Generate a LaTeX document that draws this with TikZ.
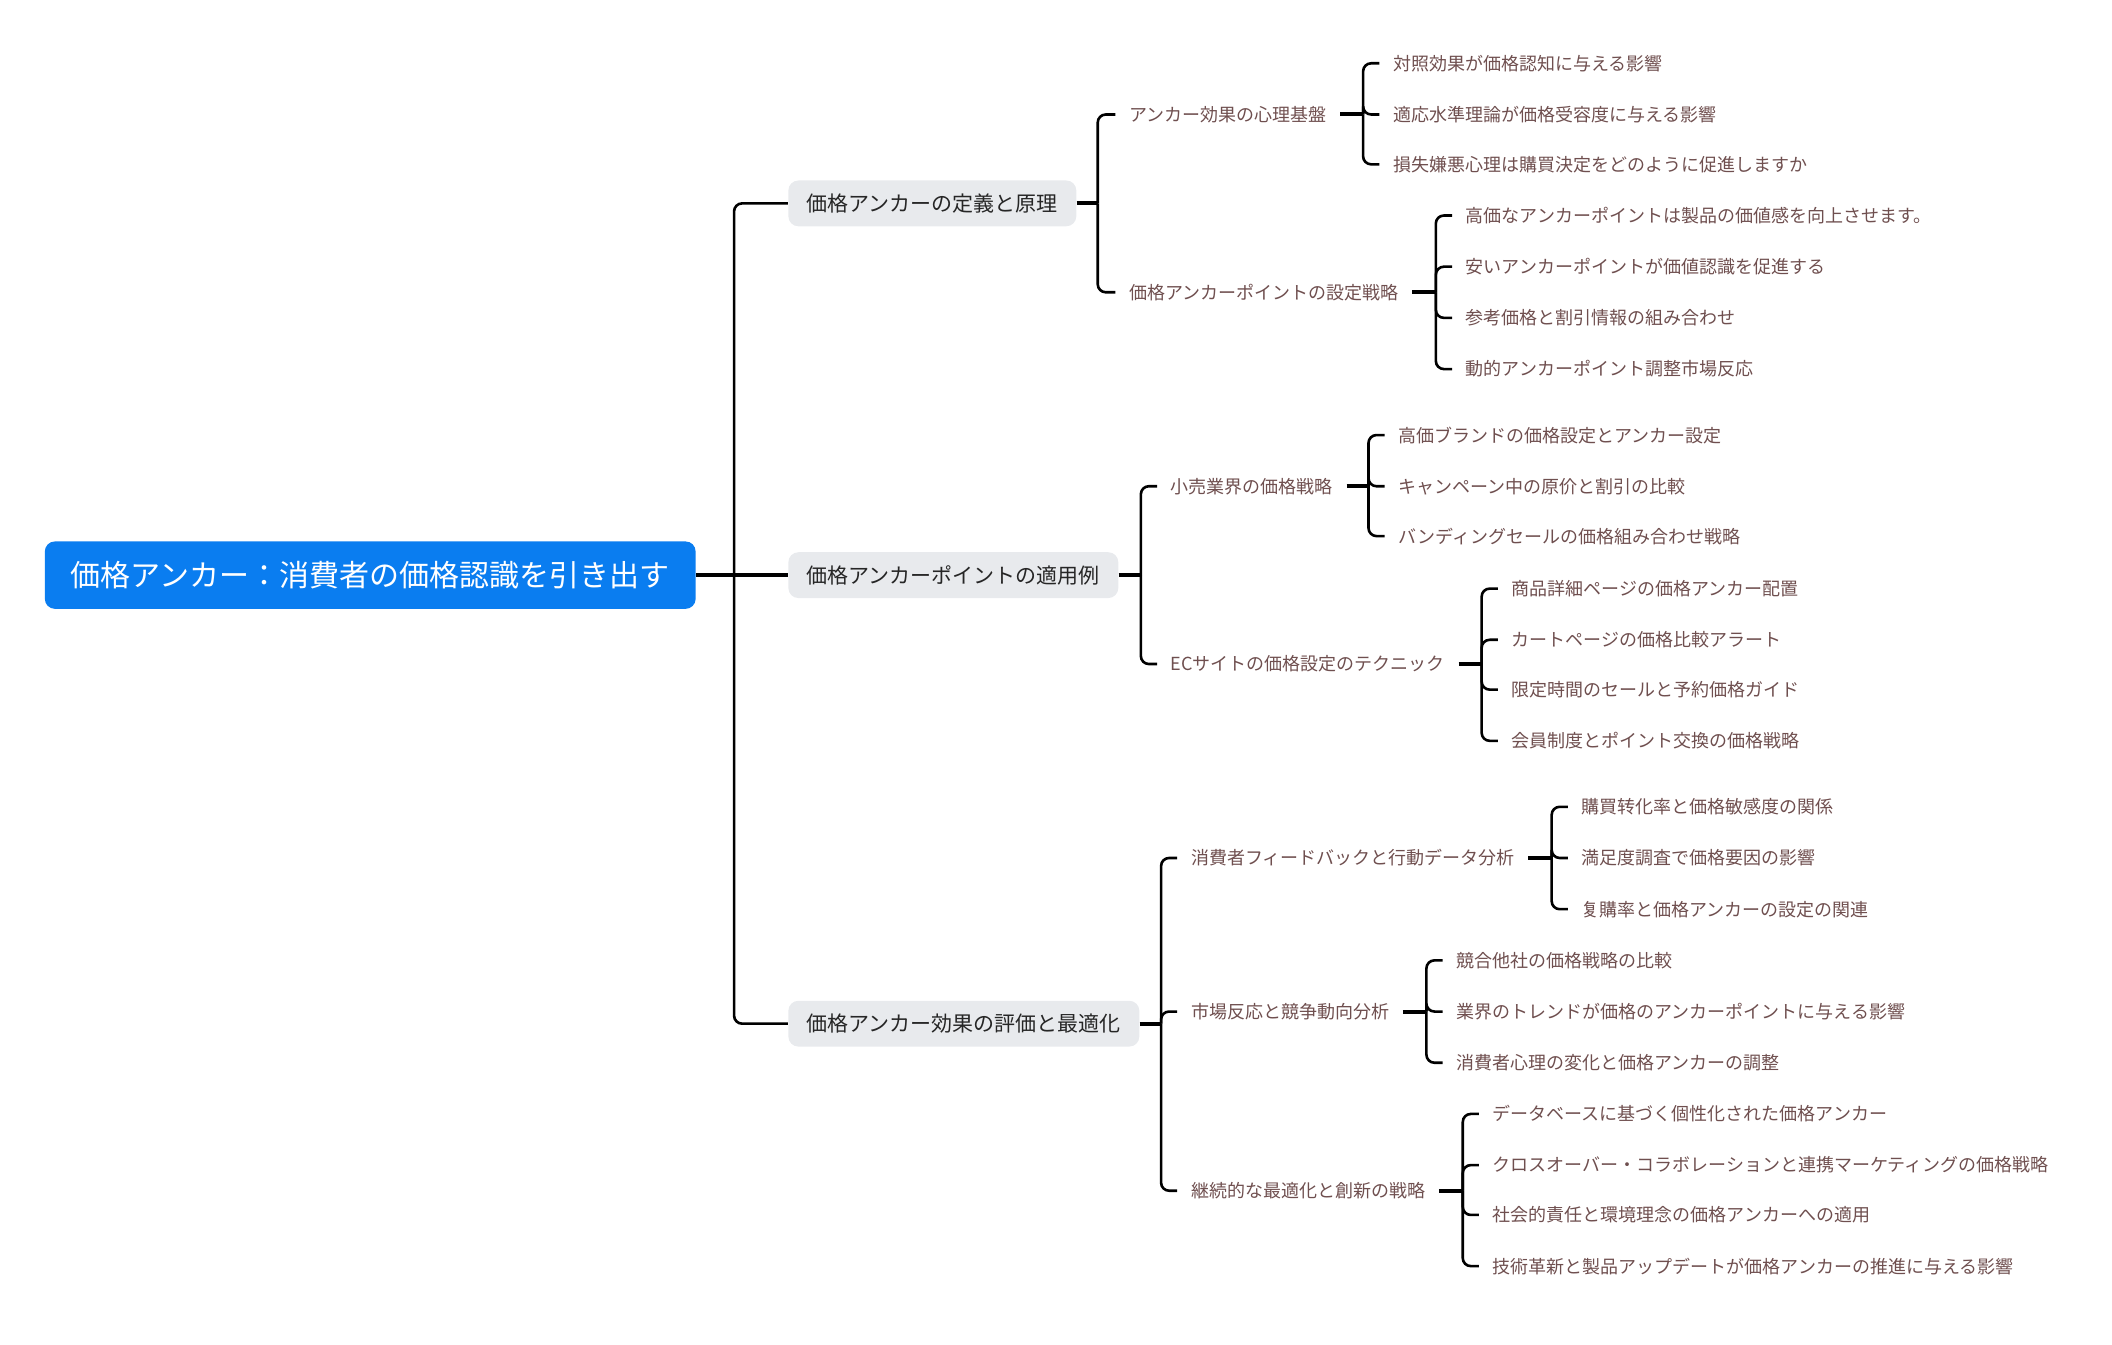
\documentclass[tikz,border=0pt]{standalone}
\usepackage{fontspec}
\newfontfamily\jp{Noto Sans CJK JP}
\usetikzlibrary{calc}
\definecolor{rootblue}{HTML}{0A7DF0}
\definecolor{topicgray}{HTML}{E8EAED}
\definecolor{leafbrown}{HTML}{6F4F4F}
\tikzset{
  rootbox/.style={fill=rootblue, text=white, rounded corners=5pt, font=\jp\fontsize{15}{18}\selectfont,
    inner xsep=13pt, minimum height=33.7pt, anchor=west},
  topic/.style={fill=topicgray, text=black!85, rounded corners=5pt, font=\jp\fontsize{10.5}{13}\selectfont,
    inner xsep=9.2pt, minimum height=22.9pt, anchor=west},
  sub/.style={text=leafbrown, font=\jp\fontsize{9}{11}\selectfont, inner xsep=6.7pt, inner ysep=2pt, anchor=west},
  link/.style={line width=1.3pt, rounded corners=4pt},
  stub/.style={line width=2pt},
}
\begin{document}
\begin{tikzpicture}[x=0.6735pt,y=-0.6735pt]
\useasboundingbox (0,0) rectangle (1568,998);

% root and main branches
\node[rootbox] (root) at (33,427) {価格アンカー：消費者の価格認識を引き出す};
\node[topic] (A) at (585,151) {価格アンカーの定義と原理};
\node[topic] (B) at (585,427) {価格アンカーポイントの適用例};
\node[topic] (C) at (585,760) {価格アンカー効果の評価と最適化};
\coordinate (trunk) at (545,427);
\draw[stub] (root.east) -- (B.west);
\draw[link] (trunk) |- (A.west);
\draw[link] (trunk) |- (C.west);

% second level
\node[sub] (A1) at (828,85) {アンカー効果の心理基盤};
\node[sub] (A2) at (828,217) {価格アンカーポイントの設定戦略};
\node[sub] (B1) at (859,361) {小売業界の価格戦略};
\node[sub] (B2) at (859,493) {ECサイトの価格設定のテクニック};
\node[sub] (C1) at (874,637) {消費者フィードバックと行動データ分析};
\node[sub] (C2) at (874,751) {市場反応と競争動向分析};
\node[sub] (C3) at (874,884) {継続的な最適化と創新の戦略};
\coordinate (Abus) at (815,151);
\coordinate (Bbus) at (847,427);
\coordinate (Cbus) at (862,760);
\draw[stub] (A.east) -- (Abus);
\draw[stub] (B.east) -- (Bbus);
\draw[stub] (C.east) -- (Cbus);
\foreach \p in {A1,A2} \draw[link] (Abus) |- (\p.west);
\foreach \p in {B1,B2} \draw[link] (Bbus) |- (\p.west);
\foreach \p in {C1,C2,C3} \draw[link] (Cbus) |- (\p.west);

% leaves
\coordinate (A1bus) at (1012,85);
\coordinate (A2bus) at (1066,217);
\coordinate (B1bus) at (1016,361);
\coordinate (B2bus) at (1100,493);
\coordinate (C1bus) at (1152,637);
\coordinate (C2bus) at (1059,751);
\coordinate (C3bus) at (1086,884);
\foreach \p in {A1,A2,B1,B2,C1,C2,C3} \draw[stub] (\p.east) -- (\p bus);

\foreach \y/\t [count=\i] in {47/対照効果が価格認知に与える影響,
    85/適応水準理論が価格受容度に与える影響,
    122/損失嫌悪心理は購買決定をどのように促進しますか} {
  \node[sub] (a1-\i) at (1024,\y) {\t};
  \draw[link] (A1bus) |- (a1-\i.west);
}
\foreach \y/\t [count=\i] in {160/高価なアンカーポイントは製品の価値感を向上させます。,
    198/安いアンカーポイントが価値認識を促進する,
    236/参考価格と割引情報の組み合わせ,
    274/動的アンカーポイント調整市場反応} {
  \node[sub] (a2-\i) at (1078,\y) {\t};
  \draw[link] (A2bus) |- (a2-\i.west);
}
\foreach \y/\t [count=\i] in {323/高価ブランドの価格設定とアンカー設定,
    361/キャンペーン中の原价と割引の比較,
    398/バンディングセールの価格組み合わせ戦略} {
  \node[sub] (b1-\i) at (1028,\y) {\t};
  \draw[link] (B1bus) |- (b1-\i.west);
}
\foreach \y/\t [count=\i] in {437/商品詳細ページの価格アンカー配置,
    475/カートページの価格比較アラート,
    512/限定時間のセールと予約価格ガイド,
    550/会員制度とポイント交換の価格戦略} {
  \node[sub] (b2-\i) at (1112,\y) {\t};
  \draw[link] (B2bus) |- (b2-\i.west);
}
\foreach \y/\t [count=\i] in {599/購買转化率と価格敏感度の関係,
    637/満足度調査で価格要因の影響,
    675/复購率と価格アンカーの設定の関連} {
  \node[sub] (c1-\i) at (1164,\y) {\t};
  \draw[link] (C1bus) |- (c1-\i.west);
}
\foreach \y/\t [count=\i] in {713/競合他社の価格戦略の比較,
    751/業界のトレンドが価格のアンカーポイントに与える影響,
    789/消費者心理の変化と価格アンカーの調整} {
  \node[sub] (c2-\i) at (1071,\y) {\t};
  \draw[link] (C2bus) |- (c2-\i.west);
}
\foreach \y/\t [count=\i] in {827/データベースに基づく個性化された価格アンカー,
    865/クロスオーバー・コラボレーションと連携マーケティングの価格戦略,
    902/社会的責任と環境理念の価格アンカーへの適用,
    940/技術革新と製品アップデートが価格アンカーの推進に与える影響} {
  \node[sub] (c3-\i) at (1098,\y) {\t};
  \draw[link] (C3bus) |- (c3-\i.west);
}
\end{tikzpicture}
\end{document}
